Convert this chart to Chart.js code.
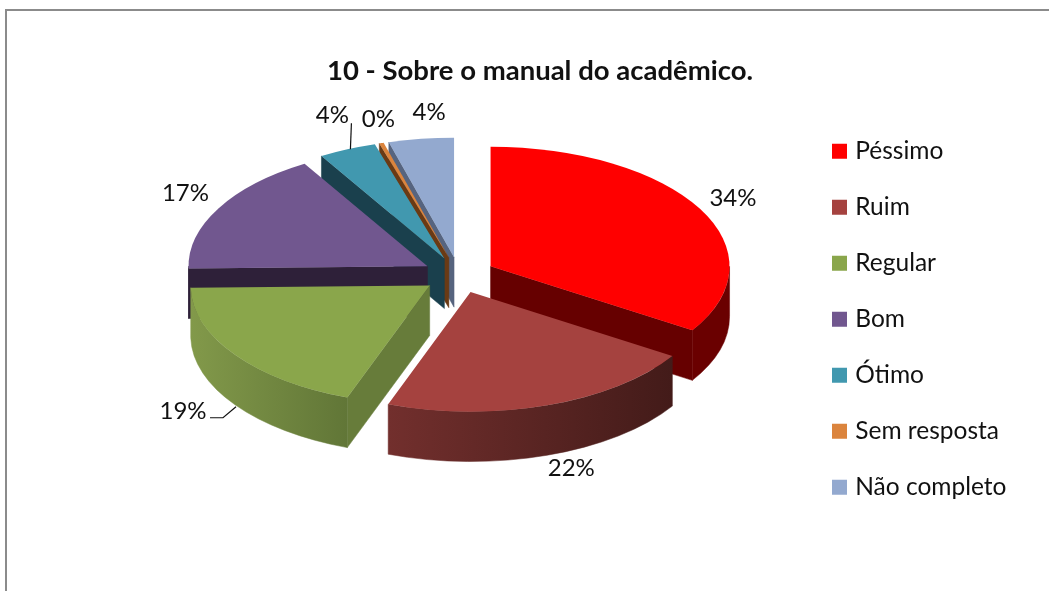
<!DOCTYPE html>
<html lang="pt"><head><meta charset="utf-8">
<style>html,body{margin:0;padding:0;background:#fff}canvas{display:block}</style>
<script src="https://cdn.jsdelivr.net/npm/chart.js@4"></script>
</head><body><canvas id="c" width="1049" height="591"></canvas>
<script>
const titleText = '10 - Sobre o manual do acadêmico.';
const categories = ['Péssimo','Ruim','Regular','Bom','Ótimo','Sem resposta','Não completo'];
const values = [34.0,21.6,19.1,16.7,3.9,0.3,4.4];
const faceColors = ['#FF0000','#A5423F','#8AA64B','#71578F','#4198AF','#DB843D','#93A9CF'];
const wallLeft  = ['#6a0000','#722f2d','#82994a','#2e2039','#1a404d','#6a3a14','#4a5a78'];
const wallRight = ['#6a0000','#431b19','#617637','#2e2039','#1a404d','#6a3a14','#4a5a78'];
const edgeColors= ['#660000','#431b19','#677c3a','#2e2039','#1a404d','#6a3a14','#56647f'];
const labelShift = [[33,-10],[24,63],[-52,56],[-33,-15],[-15,-34],[-3,-24],[8,-27]];
const FONT = 'Lato, Carlito, Calibri, sans-serif';
const TILT = 0.5, DEPTH = 50, RADIUS = 239, EXPLODE = 36, CX = 459, CY = 275;

function arcGeom(arc){
  const p = arc.getProps(['x','y','startAngle','endAngle','outerRadius']);
  const mid = (p.startAngle+p.endAngle)/2;
  const ax = p.x + Math.cos(mid)*EXPLODE;
  const ay = p.y + Math.sin(mid)*EXPLODE*TILT;
  return {ax,ay,a0:p.startAngle,a1:p.endAngle,R:p.outerRadius,mid};
}
function edgeFace(ctx,g,a,color){
  const ex=g.ax+Math.cos(a)*g.R, ey=g.ay+Math.sin(a)*g.R*TILT;
  ctx.fillStyle=color; ctx.strokeStyle=color; ctx.lineWidth=.5;
  ctx.beginPath();ctx.moveTo(g.ax,g.ay);ctx.lineTo(ex,ey);ctx.lineTo(ex,ey+DEPTH);ctx.lineTo(g.ax,g.ay+DEPTH);ctx.closePath();ctx.fill();ctx.stroke();
}
const pie3d = {
  id:'pie3d',
  beforeDraw(chart){
    const ctx=chart.ctx; ctx.save();
    ctx.fillStyle='#fff'; ctx.fillRect(0,0,chart.width,chart.height);
    ctx.strokeStyle='#8b8b8b'; ctx.lineWidth=2;
    ctx.beginPath();ctx.moveTo(6,591);ctx.lineTo(6,10);ctx.lineTo(1049,10);ctx.stroke();
    ctx.restore();
  },
  afterLayout(chart){
    const a=chart.chartArea;
    a.left=0;a.right=2*CX;a.top=0;a.bottom=2*CY;a.width=2*CX;a.height=2*CY;
    const t=chart.titleBlock; t.left=0;t.right=1080;t.top=55;t.bottom=91;
    const l=chart.legend, pad=chart.options.plugins.legend.labels.padding;
    l.left=836-pad;l.right=1049;l.top=139-pad;l.bottom=591;
  },
  beforeDatasetDraw(chart){
    const ctx=chart.ctx, arcs=chart.getDatasetMeta(0).data;
    const order=arcs.map((a,i)=>i).sort((i,j)=>Math.sin(arcGeom(arcs[i]).mid)-Math.sin(arcGeom(arcs[j]).mid));
    ctx.save();
    order.forEach(i=>{
      const g=arcGeom(arcs[i]);
      if(Math.cos(g.a0)<0) edgeFace(ctx,g,g.a0,edgeColors[i]);
      if(Math.cos(g.a1)>0) edgeFace(ctx,g,g.a1,edgeColors[i]);
      [[g.a0,g.a1],[g.a0+2*Math.PI,g.a1+2*Math.PI]].forEach(([s,e])=>{
        const b0=Math.max(s,0), b1=Math.min(e,Math.PI);
        if(b1<=b0) return;
        const x0=g.ax+Math.cos(b0)*g.R, x1=g.ax+Math.cos(b1)*g.R;
        const gr=ctx.createLinearGradient(Math.min(x0,x1),0,Math.max(x0,x1),0);
        gr.addColorStop(0,wallLeft[i]);gr.addColorStop(1,wallRight[i]);
        ctx.fillStyle=gr;ctx.strokeStyle=gr;ctx.lineWidth=.5;
        ctx.beginPath();
        ctx.ellipse(g.ax,g.ay,g.R,g.R*TILT,0,b0,b1);
        ctx.ellipse(g.ax,g.ay+DEPTH,g.R,g.R*TILT,0,b1,b0,true);
        ctx.closePath();ctx.fill();ctx.stroke();
      });
    });
    ctx.restore();
    // top faces: the library's own arc elements, flattened and pulled out of the pie
    arcs.forEach(arc=>{
      const g=arcGeom(arc);
      ctx.save();
      ctx.translate(0,CY);ctx.scale(1,TILT);ctx.translate(0,-CY);
      ctx.translate(Math.cos(g.mid)*EXPLODE,Math.sin(g.mid)*EXPLODE);
      arc.draw(ctx);
      ctx.restore();
    });
    return false;
  },
  afterDatasetsDraw(chart){
    const ctx=chart.ctx;
    const arcs=chart.getDatasetMeta(0).data;
    const total=values.reduce((s,v)=>s+v,0);
    ctx.save();
    ctx.fillStyle='#111';ctx.font='24px '+FONT;ctx.textAlign='center';ctx.textBaseline='middle';
    arcs.forEach((arc,i)=>{
      const g=arcGeom(arc);
      const ox=g.ax+Math.cos(g.mid)*g.R, oy=g.ay+Math.sin(g.mid)*g.R*TILT;
      ctx.fillText(Math.round(values[i]/total*100)+'%',ox+labelShift[i][0],oy+labelShift[i][1]);
      if(i===2||i===4){
        ctx.strokeStyle='#111';ctx.lineWidth=1.2;ctx.beginPath();
        if(i===4){ctx.moveTo(ox+4,oy-26);ctx.lineTo(ox+3,oy);}
        else{ctx.moveTo(ox-25,oy+63);ctx.lineTo(ox-12,oy+63);ctx.lineTo(ox+1,oy+52);}
        ctx.stroke();
      }
    });
    ctx.restore();
  }
};
new Chart(document.getElementById('c'),{
  type:'pie',
  data:{labels:categories,datasets:[{data:values,backgroundColor:faceColors,borderWidth:0,radius:RADIUS,clip:false}]},
  options:{
    responsive:false,animation:false,
    plugins:{
      tooltip:{enabled:false},
      title:{display:true,text:titleText,color:'#111',font:{family:FONT,size:27.5,weight:'bold',lineHeight:1.2},padding:0},
      legend:{position:'right',align:'start',labels:{
        color:'#111',font:{family:FONT,size:24.5,lineHeight:1.2},boxWidth:7,boxHeight:7,padding:31.5,
        generateLabels(chart){
          return Chart.overrides.pie.plugins.legend.labels.generateLabels(chart).map((it,i)=>({...it,fillStyle:faceColors[i],strokeStyle:faceColors[i],lineWidth:8,lineJoin:'miter'}));
        }
      }}
    }
  },
  plugins:[pie3d]
});
</script></body></html>
